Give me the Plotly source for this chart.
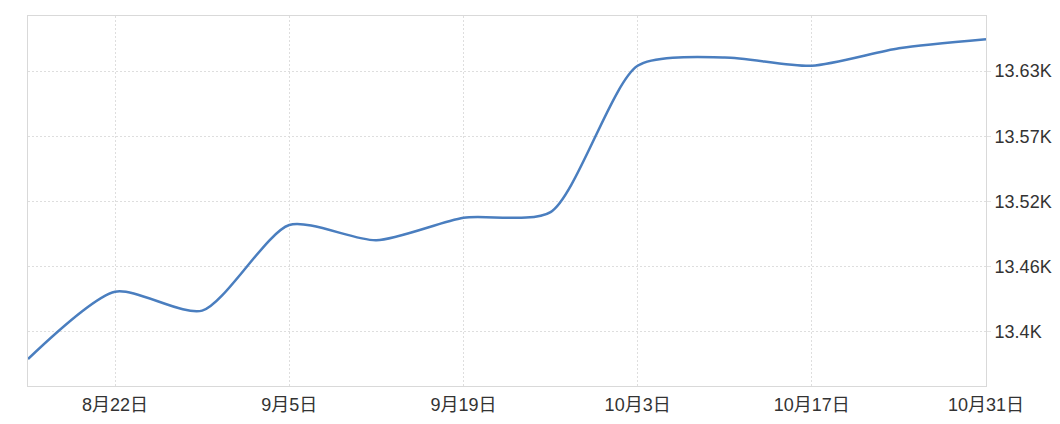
import plotly.graph_objects as go

dates = ["2024-08-15", "2024-08-22", "2024-08-29", "2024-09-05", "2024-09-12", "2024-09-19",
         "2024-09-26", "2024-10-03", "2024-10-10", "2024-10-17", "2024-10-24", "2024-10-31"]
values = [13376.2, 13435.5, 13418.8, 13494.3, 13480.8, 13500.7,
          13505.7, 13634.6, 13642.0, 13634.6, 13650.0, 13658.0]

x_tick_vals = ["2024-08-22", "2024-09-05", "2024-09-19", "2024-10-03", "2024-10-17", "2024-10-31"]
x_tick_text = ["8月22日", "9月5日", "9月19日", "10月3日", "10月17日", "10月31日"]
y_tick_vals = [13400, 13457.5, 13515, 13572.5, 13630]
y_tick_text = ["13.4K", "13.46K", "13.52K", "13.57K", "13.63K"]

font_family = "Liberation Sans, Arial, Noto Sans CJK SC, sans-serif"

fig = go.Figure()
fig.add_trace(go.Scatter(
    x=dates, y=values, mode="lines",
    line=dict(color="#4a7ebf", width=2.5, shape="spline", smoothing=0.7),
    hoverinfo="x+y", showlegend=False,
))

# page body has an 8px margin, so the figure is sized to fit inside the window
fig.update_layout(
    width=1052, height=416,
    margin=dict(l=20, r=74, t=8, b=38, autoexpand=False),
    paper_bgcolor="white", plot_bgcolor="white",
    font=dict(family=font_family, size=18, color="#333333"),
    xaxis=dict(
        range=["2024-08-15", "2024-10-31"],
        tickvals=x_tick_vals, ticktext=x_tick_text, automargin=False,
        showgrid=True, gridcolor="#dedede", griddash="2px,2px", gridwidth=1,
        showline=True, linecolor="#d9d9d9", linewidth=1, mirror=True,
        ticks="outside", ticklen=2, tickcolor="rgba(0,0,0,0)",
        zeroline=False, tickfont=dict(size=18, color="#333333"),
    ),
    yaxis=dict(
        side="right", automargin=False,
        range=[13352.4, 13678.5],
        tickvals=y_tick_vals, ticktext=y_tick_text,
        showgrid=True, gridcolor="#dedede", griddash="2px,2px", gridwidth=1,
        showline=True, linecolor="#d9d9d9", linewidth=1, mirror=True,
        ticks="outside", ticklen=4, tickcolor="#e3e3e3",
        zeroline=False, tickfont=dict(size=18, color="#333333"),
    ),
)

fig.write_html("out.html")
